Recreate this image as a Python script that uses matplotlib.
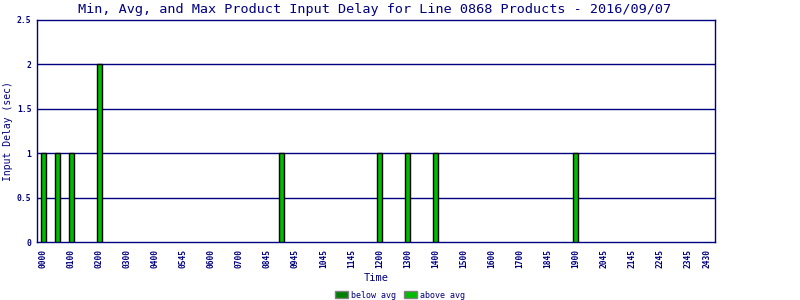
import matplotlib
matplotlib.use("Agg")
import matplotlib.pyplot as plt
from matplotlib.patches import Patch

# half-hour slots that had products, and their delay (sec)
BAR_TIMES = ["0000", "0030", "0100", "0200", "0830", "1200", "1300", "1400", "1900"]
BAR_DELAY = [1, 1, 1, 2, 1, 1, 1, 1, 1]

TICK_LABELS = ["0000", "0100", "0200", "0300", "0400", "0545", "0600", "0700",
               "0845", "0945", "1045", "1145", "1200", "1300", "1400", "1500",
               "1600", "1700", "1845", "1900", "2045", "2145", "2245", "2345", "2430"]

Y_TICKS = [0, 0.5, 1, 1.5, 2, 2.5]
Y_TICK_LABELS = ["0", "0.5", "1", "1.5", "2", "2.5"]

NAVY = "#000080"
BELOW = "#008000"
ABOVE = "#00bb00"


def slot(t):
    return int(t[:2]) * 2 + int(t[2:]) / 30


plt.rcParams["font.family"] = ["DejaVu Sans Mono"]

fig = plt.figure(figsize=(8, 3), dpi=100)
ax = fig.add_axes([37 / 800, 1 - 242 / 300, (715 - 37) / 800, (242 - 20) / 300])

xs = [slot(t) for t in BAR_TIMES]
ax.bar(xs, BAR_DELAY, width=0.33, color=ABOVE, edgecolor="black", linewidth=1, zorder=3)

ax.set_xlim(-0.46, 47.96)
ax.set_ylim(0, 2.5)
for y in Y_TICKS[1:-1]:
    ax.axhline(y, color=NAVY, lw=1, zorder=2)

tick_pos = list(range(0, 2 * (len(TICK_LABELS) - 1), 2)) + [47.4]
ax.set_xticks(tick_pos)
ax.set_xticklabels(TICK_LABELS, rotation=90, fontsize=5.7, color=NAVY, fontweight="bold")
ax.set_yticks(Y_TICKS)
ax.set_yticklabels(Y_TICK_LABELS, fontsize=5.8, color=NAVY, fontweight="bold")
ax.tick_params(axis="x", length=0, pad=5)
ax.tick_params(axis="y", length=0, pad=4)

for s in ax.spines.values():
    s.set_color(NAVY)
    s.set_linewidth(1)

ax.set_ylabel("Input Delay (sec)", fontsize=7, color=NAVY)
ax.yaxis.set_label_coords(-24 / 678, 0.5)
ax.set_xlabel("Time", fontsize=7.5, color=NAVY)
ax.xaxis.set_label_coords(0.5, -31 / 222)
fig.text(0.468, 1 - 9 / 300, "Min, Avg, and Max Product Input Delay for Line 0868 Products - 2016/09/07",
         ha="center", va="center", fontsize=9.7, color=NAVY)

handles = [Patch(facecolor=BELOW, edgecolor="gray", label="below avg"),
           Patch(facecolor=ABOVE, edgecolor="gray", label="above avg")]
fig.legend(handles=handles, loc="center", bbox_to_anchor=(0.5, 1 - 295 / 300), ncol=2,
           frameon=False, fontsize=6, labelcolor=NAVY, handlelength=1.5, handleheight=0.95,
           handletextpad=0.36, columnspacing=1.0, borderpad=0)

fig.savefig("out.png", dpi=100)
